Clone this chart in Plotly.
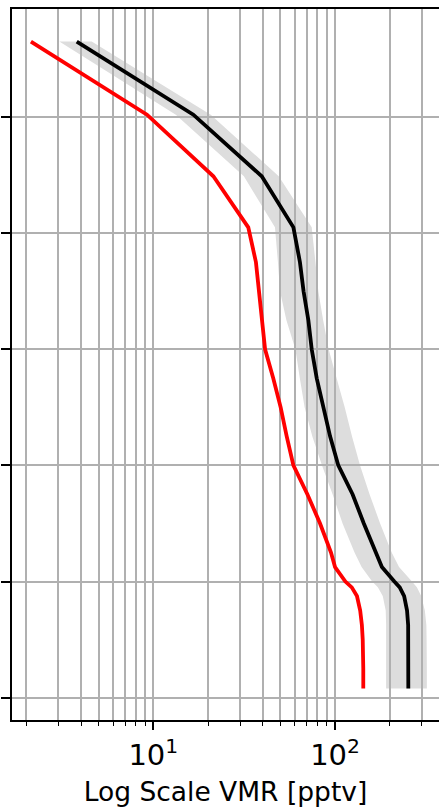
import plotly.graph_objects as go

# Altitude levels (arbitrary vertical units, ticks unlabeled)
alt = [11.3, 10.04, 8.98, 8.1, 7.5, 7.0, 6.5, 6.0, 5.5, 5.0, 4.5, 4.0, 3.5, 3.0,
       2.5, 2.25, 2.0, 1.9, 1.75, 1.5, 1.25, 1.0, 0.5, 0.16]

# Black profile (pptv)
black_vmr = [3.79, 16.6, 39.5, 59.0, 64.1, 67.1, 71.3, 74.4, 79.3, 86.2, 93.9, 104.2, 125.0, 144.0,
             167.0, 181.0, 212.0, 227.0, 240.0, 249.0, 252.5, 253.0, 253.0, 253.0]

# Red profile (pptv)
red_vmr = [2.12, 9.23, 21.4, 33.3, 36.7, 38.2, 39.5, 41.2, 45.7, 50.2, 54.2, 59.0, 70.5, 82.7,
           95.0, 100.0, 114.0, 123.6, 132.0, 137.5, 140.5, 142.0, 143.0, 143.0]

# Grey envelope around black profile (pptv)
band_low = [3.04, 13.3, 31.5, 46.7, 48.5, 49.8, 54.0, 60.5, 64.0, 68.0, 75.0, 84.8, 97.0, 110.0,
            128.0, 140.0, 160.0, 172.0, 183.0, 190.0, 191.0, 191.0, 191.0, 191.0]
band_high = [4.58, 20.7, 49.0, 74.4, 78.0, 80.9, 86.0, 92.2, 102.0, 113.0, 124.0, 137.3, 155.0, 177.0,
             205.0, 225.0, 265.0, 282.0, 298.0, 312.0, 318.0, 319.0, 320.0, 320.0]

x_major = [10, 100]
x_major_text = ["10<sup>1</sup>", "10<sup>2</sup>"]
x_minor = [2, 3, 4, 5, 6, 7, 8, 9, 20, 30, 40, 50, 60, 70, 80, 90, 200, 300]
y_ticks = [0, 2, 4, 6, 8, 10]
x_title = "Log Scale VMR [pptv]"

GRID = "#b0b0b0"
FONT = "DejaVu Sans"

fig = go.Figure()

# envelope as a below-grid shape (matplotlib draws grid above fill_between)
pts_x = band_low + band_high[::-1]
pts_y = alt + alt[::-1]
path = "M " + " L ".join(f"{x},{y}" for x, y in zip(pts_x, pts_y)) + " Z"
fig.add_shape(type="path", path=path, xref="x", yref="y", layer="below",
              fillcolor="#dddddd", line=dict(width=0))

fig.add_trace(go.Scatter(x=red_vmr, y=alt, mode="lines",
                         line=dict(color="#ff0000", width=3.8), showlegend=False))
fig.add_trace(go.Scatter(x=black_vmr, y=alt, mode="lines",
                         line=dict(color="#000000", width=3.8), showlegend=False))

fig.update_layout(
    width=439, height=807,
    margin=dict(l=12, r=0, t=9, b=87, autoexpand=False),
    paper_bgcolor="white", plot_bgcolor="white",
    font=dict(family=FONT, color="black"),
    showlegend=False,
)

fig.update_xaxes(
    type="log", range=[0.2223, 2.572], automargin=False,
    tickmode="array", tickvals=x_major, ticktext=x_major_text,
    ticks="outside", ticklen=8, tickwidth=1.7, tickcolor="black",
    tickfont=dict(size=29, family=FONT, color="black"),
    showgrid=True, gridcolor=GRID, gridwidth=2,
    minor=dict(tickmode="array", tickvals=x_minor, ticks="outside", ticklen=4,
               tickwidth=1.3, tickcolor="black", showgrid=True,
               gridcolor=GRID, gridwidth=2),
    showline=True, linecolor="black", linewidth=2, mirror=True,
    zeroline=False,
    title=dict(text=x_title, font=dict(size=26.5, family=FONT, color="black"), standoff=12),
)

fig.update_yaxes(
    range=[-0.384, 11.86], automargin=False,
    tickmode="array", tickvals=y_ticks, showticklabels=False,
    ticks="outside", ticklen=9, tickwidth=1.7, tickcolor="black",
    showgrid=True, gridcolor=GRID, gridwidth=2,
    showline=True, linecolor="black", linewidth=2, mirror=False,
    zeroline=False,
)

# remove the page's default 8px body margin so the figure sits at the window origin
fig.write_html("out.html", config={"displayModeBar": False},
               post_script="document.body.style.margin='0';document.body.style.overflow='hidden';")
